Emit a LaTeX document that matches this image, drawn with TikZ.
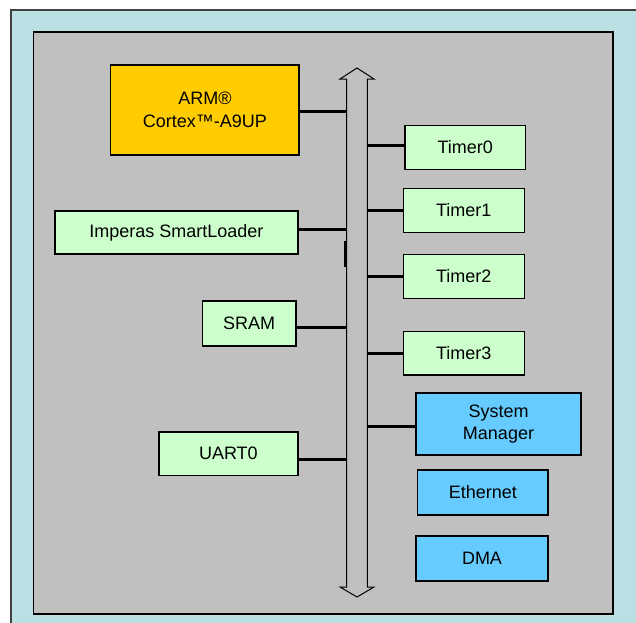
\documentclass[tikz,border=0pt]{standalone}
\usepackage{fontspec}
\setmainfont{Liberation Sans}
\definecolor{outerbg}{RGB}{187,224,227}
\definecolor{innerbg}{RGB}{192,192,192}
\definecolor{armfill}{RGB}{255,204,0}
\definecolor{greenfill}{RGB}{204,255,204}
\definecolor{bluefill}{RGB}{102,204,255}
\tikzset{
  blk/.style={draw=black, line width=1.6pt, inner sep=0pt, align=center,
    font=\fontsize{18}{22.5}\selectfont},
  greenblk/.style={blk, fill=greenfill},
  blueblk/.style={blk, fill=bluefill},
  conn/.style={draw=black, line width=3pt},
}
\begin{document}
\begin{tikzpicture}[x=1pt,y=-1pt]
\useasboundingbox (0,0) rectangle (636,622);
\clip (0,0) rectangle (636,622);
% frames
\path[fill=outerbg, draw=black!75, line width=1.5pt] (11,10) rectangle (645,635);
\path[fill=innerbg, draw=black, line width=1.5pt] (33.5,32) rectangle (613,614);
% bus
\path[fill=innerbg, draw=black, line width=1pt]
  (346.7,587) -- (340,587) -- (357,597) -- (374,587) -- (367.3,587)
  -- (367.3,79) -- (374,79) -- (357,68) -- (340,79) -- (346.7,79) -- cycle;
\coordinate (busL) at (346.7,0);
\coordinate (busR) at (367.3,0);
\draw[line width=2pt] (345.3,241) -- (345.3,267);
% blocks
\node[blk, fill=armfill, minimum width=188.5pt, minimum height=90pt] (arm) at (204.9,110) {ARM®\\Cortex™-A9UP};
\node[greenblk, minimum width=242.7pt, minimum height=43.3pt] (loader) at (176.4,232.4) {Imperas SmartLoader};
\node[greenblk, minimum width=93.7pt, minimum height=44.7pt] (sram) at (249.2,323.4) {SRAM};
\node[greenblk, minimum width=138.7pt, minimum height=43.3pt] (uart) at (228.4,453.7) {UART0};
\node[greenblk, minimum width=120.7pt, minimum height=44pt] (t0) at (465.3,147.3) {Timer0};
\node[greenblk, minimum width=121pt, minimum height=44pt] (t1) at (463.8,210.3) {Timer1};
\node[greenblk, minimum width=121pt, minimum height=44pt] (t2) at (463.8,276.3) {Timer2};
\node[greenblk, minimum width=121pt, minimum height=43.3pt] (t3) at (463.8,353.3) {Timer3};
\node[blueblk, minimum width=165pt, minimum height=62pt] (sysm) at (498.5,424) {System\\Manager};
\node[blueblk, minimum width=130.5pt, minimum height=45pt] (eth) at (482.8,492.5) {Ethernet};
\node[blueblk, minimum width=132pt, minimum height=45pt] (dma) at (482,558.5) {DMA};
% connectors
\draw[conn] (arm.east |- 0,111.7) -- (busL |- 0,111.7);
\draw[conn] (loader.east |- 0,229.3) -- (busL |- 0,229.3);
\draw[conn] (sram.east |- 0,327.7) -- (busL |- 0,327.7);
\draw[conn] (uart.east |- 0,459) -- (busL |- 0,459);
\draw[conn] (busR |- 0,145) -- (t0.west |- 0,145);
\draw[conn] (busR |- 0,210.7) -- (t1.west |- 0,210.7);
\draw[conn] (busR |- 0,276.3) -- (t2.west |- 0,276.3);
\draw[conn] (busR |- 0,353) -- (t3.west |- 0,353);
\draw[conn] (busR |- 0,426.3) -- (sysm.west |- 0,426.3);
\end{tikzpicture}
\end{document}
